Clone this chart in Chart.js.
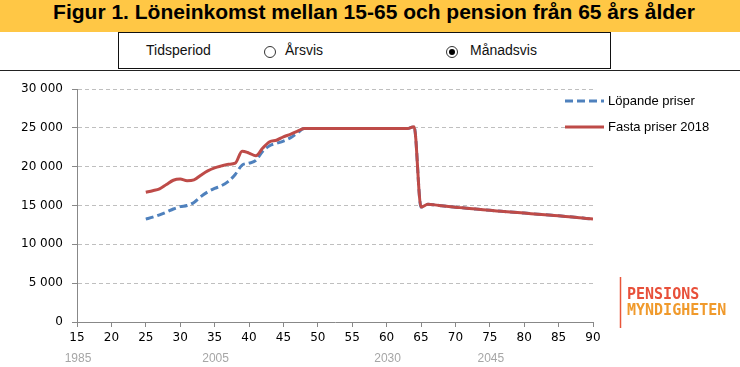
<!DOCTYPE html>
<html><head><meta charset="utf-8">
<script src="https://cdn.jsdelivr.net/npm/chart.js@4.4.0/dist/chart.umd.min.js"></script>
<style>
html,body{margin:0;padding:0;background:#fff;width:740px;height:367px;overflow:hidden;}
#wrap{position:relative;width:740px;height:367px;}
#c{position:absolute;left:0;top:0;}
#banner{position:absolute;left:0;top:0;width:740px;height:32px;background:#FFC745;}
#title{position:absolute;left:4px;top:0;width:740px;height:32px;line-height:33px;text-align:center;font:bold 21px "Liberation Sans",Arial,sans-serif;color:#000;white-space:nowrap;}
#box{position:absolute;left:118px;top:32px;width:491px;height:35px;border:1px solid #111;background:#fff;font:14px "Liberation Sans",Arial,sans-serif;color:#111;}
#rule{position:absolute;left:0;top:70px;width:740px;height:0;border-top:1.5px solid #222;}
.t{position:absolute;top:9px;white-space:nowrap;}
.r{position:absolute;top:13px;width:12px;height:12px;border:1px solid #333;border-radius:50%;background:#fff;box-sizing:border-box;}
.r.on::after{content:"";position:absolute;left:2px;top:2px;width:6px;height:6px;border-radius:50%;background:#000;}
</style></head>
<body><div id="wrap">
<canvas id="c" width="740" height="367"></canvas>
<div id="banner"></div>
<div id="title">Figur 1. Löneinkomst mellan 15-65 och pension från 65 års ålder</div>
<div id="rule"></div>
<div id="box">
  <span class="t" style="left:27px">Tidsperiod</span>
  <span class="r" style="left:145px"></span><span class="t" style="left:166px">Årsvis</span>
  <span class="r on" style="left:327px"></span><span class="t" style="left:351px">Månadsvis</span>
</div>
</div>
<script>
const ages = [25,26,27,28,29,30,31,32,33,34,35,36,37,38,39,40,41,42,43,44,45,46,47,48,49,50,51,52,53,54,55,56,57,58,59,60,61,62,63,64,65,66,67,68,69,70,71,72,73,74,75,76,77,78,79,80,81,82,83,84,85,86,87,88,89,90];
const fastaPriser = [16700,16900,17150,17700,18250,18400,18200,18300,18900,19450,19850,20100,20300,20450,22000,21750,21400,22400,23200,23400,23850,24150,24550,24900,24900,24900,24900,24900,24900,24900,24900,24900,24900,24900,24900,24900,24900,24900,24900,25150,14800,15150,15080,14980,14880,14780,14700,14620,14540,14460,14380,14300,14230,14160,14090,14020,13950,13880,13810,13740,13670,13590,13510,13430,13340,13260];
const lopandePriser = [13250,13500,13800,14150,14550,14850,15000,15400,16150,16750,17200,17550,18100,19000,20200,20450,20800,22000,22700,23000,23300,23700,24300,24900,24900,24900,24900,24900,24900,24900,24900,24900,24900,24900,24900,24900,24900,24900,24900,25150,14800,15150,15080,14980,14880,14780,14700,14620,14540,14460,14380,14300,14230,14160,14090,14020,13950,13880,13810,13740,13670,13590,13510,13430,13340,13260];
const seriesNames = ["Löpande priser","Fasta priser 2018"];
const yearAges = [15,35,60,75];
const yearLabels = ["1985","2005","2030","2045"];
const xMin = 15, xMax = 90, xStep = 5;
const yMax = 30000, yStep = 5000;

const BLUE = "#4F81BD", RED = "#BE4B48";
const fmt = v => String(v).replace(/\B(?=(\d{3})+(?!\d))/g, " ");

const extras = {
  id: "extras",
  afterDraw(chart) {
    const ctx = chart.ctx, xs = chart.scales.x;
    ctx.save();
    ctx.font = '12px "Liberation Sans", Arial, sans-serif';
    ctx.fillStyle = "#A6A6A6";
    ctx.textAlign = "center"; ctx.textBaseline = "middle";
    yearAges.forEach((a, i) => ctx.fillText(yearLabels[i], xs.getPixelForValue(a) + 1, 359));
    const items = [{c: BLUE, d: [8,4]}, {c: RED, d: []}];
    ctx.font = '13px "Liberation Sans", Arial, sans-serif';
    ctx.textAlign = "left";
    items.forEach((it, i) => {
      const y = 101 + i * 26;
      ctx.beginPath(); ctx.setLineDash(it.d); ctx.lineWidth = 3; ctx.strokeStyle = it.c;
      ctx.moveTo(565, y); ctx.lineTo(604, y); ctx.stroke();
      ctx.setLineDash([]);
      ctx.fillStyle = "#000";
      ctx.fillText(seriesNames[i], 608, y);
    });
    ctx.beginPath(); ctx.strokeStyle = "#E8563A"; ctx.lineWidth = 1.5;
    ctx.moveTo(620.5, 277); ctx.lineTo(620.5, 328); ctx.stroke();
    ctx.font = 'bold 15px "DejaVu Sans Mono", monospace';
    ctx.fillStyle = "#E8503A"; ctx.fillText("PENSIONS", 627, 295);
    ctx.fillStyle = "#F09A2C"; ctx.fillText("MYNDIGHETEN", 627, 311);
    ctx.restore();
  }
};

new Chart(document.getElementById("c"), {
  type: "line",
  data: {
    datasets: [
      { label: seriesNames[0], data: ages.map((a, i) => ({x: a, y: lopandePriser[i]})),
        borderColor: BLUE, borderWidth: 3, borderDash: [8,4], pointRadius: 0, fill: false,
        cubicInterpolationMode: "monotone", order: 2 },
      { label: seriesNames[1], data: ages.map((a, i) => ({x: a, y: fastaPriser[i]})),
        borderColor: RED, borderWidth: 3, pointRadius: 0, fill: false,
        cubicInterpolationMode: "monotone", order: 1 }
    ]
  },
  options: {
    responsive: false, animation: false, devicePixelRatio: 1,
    layout: { padding: { top: 89, right: 147, bottom: 0, left: 0 } },
    plugins: { legend: { display: false }, tooltip: { enabled: false } },
    scales: {
      x: {
        type: "linear", min: xMin, max: xMax,
        afterFit: s => { s.height = 45; },
        ticks: { stepSize: xStep, color: "#000", padding: 4, maxRotation: 0,
                 font: { family: "DejaVu Sans", size: 12 } },
        grid: { drawOnChartArea: false, drawTicks: true, tickLength: 5, color: "#888" },
        border: { color: "#888", width: 1 }
      },
      y: {
        min: 0, max: yMax,
        afterFit: s => { s.width = 77; },
        ticks: { stepSize: yStep, color: "#000", padding: 9, callback: v => fmt(v),
                 font: { family: "DejaVu Sans", size: 12 } },
        grid: { color: "#BFBFBF", tickLength: 5, tickColor: "#888", tickBorderDash: [],
                lineWidth: 1 },
        border: { color: "#888", width: 1, dash: [4,3] }
      }
    }
  },
  plugins: [extras]
});
</script>
</body></html>
